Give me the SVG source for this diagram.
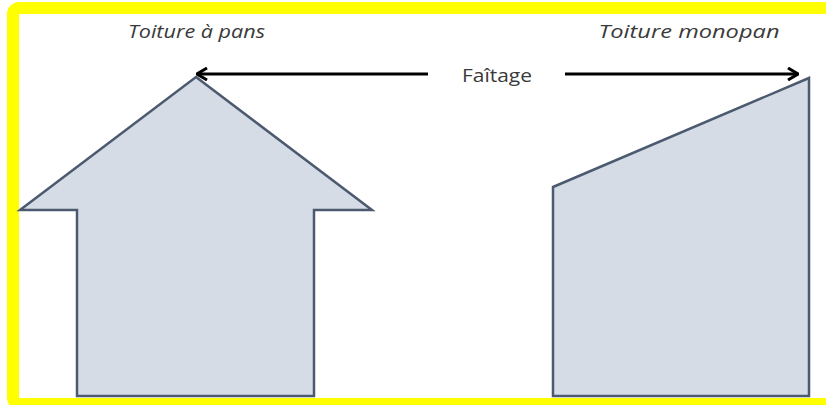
<svg xmlns="http://www.w3.org/2000/svg" width="826" height="405" viewBox="0 0 826 405">
<defs>
<style>
.shape{fill:#d5dce6;stroke:#4b5a6f;stroke-width:2.5;stroke-linejoin:miter}
.lbl{font-family:"Open Sans","DejaVu Sans",sans-serif;font-size:18px;fill:#3a3a3a}
.it{font-style:italic}
.conn{stroke:#000;stroke-width:3;fill:none}
</style>
<marker id="arr" viewBox="0 0 12 14" refX="11" refY="7" markerWidth="12" markerHeight="14" markerUnits="userSpaceOnUse" orient="auto-start-reverse">
<polyline points="1,1 11,7 1,13" fill="none" stroke="#000" stroke-width="3" stroke-linejoin="miter"/>
</marker>
</defs>
<rect width="826" height="405" fill="#fff"/>
<rect x="13" y="8" width="819" height="396" rx="6" fill="none" stroke="#ffff00" stroke-width="12"/>
<g id="toiture-a-pans">
<polygon class="shape" points="196,77 372,210 314,210 314,396 77,396 77,210 20,210"/>
<text class="lbl it" x="196.5" y="38" text-anchor="middle" textLength="137" lengthAdjust="spacingAndGlyphs">Toiture à pans</text>
</g>
<g id="toiture-monopan">
<polygon class="shape" points="553,187 809,78 809,396 553,396"/>
<text class="lbl it" x="689" y="38" text-anchor="middle" textLength="181" lengthAdjust="spacingAndGlyphs">Toiture monopan</text>
</g>
<g id="faitage">
<text class="lbl" x="497" y="82" text-anchor="middle" textLength="70" lengthAdjust="spacingAndGlyphs">Faîtage</text>
</g>
<g id="connectors">
<line class="conn" x1="428" y1="74" x2="197" y2="74" marker-end="url(#arr)"/>
<line class="conn" x1="565" y1="74" x2="798" y2="74" marker-end="url(#arr)"/>
</g>
</svg>
